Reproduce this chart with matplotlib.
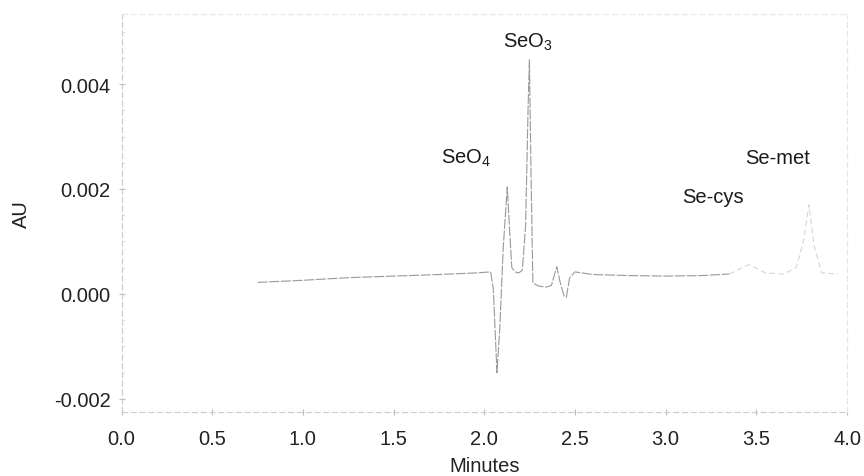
import numpy as np
import matplotlib.pyplot as plt
from matplotlib.ticker import MultipleLocator

plt.rcParams['font.family'] = ['Liberation Sans', 'DejaVu Sans']
plt.rcParams['mathtext.fontset'] = 'custom'
plt.rcParams['mathtext.rm'] = 'Liberation Sans'
plt.rcParams['mathtext.it'] = 'Liberation Sans'

# retention time (min) and absorbance (AU) of the chromatogram trace
minutes = [0.75, 1.0, 1.25, 1.5, 1.75, 1.95, 2.035, 2.05, 2.07, 2.085, 2.105,
           2.127, 2.14, 2.152, 2.17, 2.19, 2.21, 2.228, 2.242, 2.249, 2.257,
           2.268, 2.3, 2.34, 2.37, 2.40, 2.42, 2.44, 2.453, 2.47, 2.5, 2.6,
           2.8, 3.0, 3.2, 3.35, 3.46, 3.55, 3.65, 3.72, 3.76, 3.79, 3.82,
           3.86, 3.95]
absorbance = [0.00022, 0.00026, 0.00031, 0.00034, 0.00037, 0.0004, 0.00042,
              0.0001, -0.0015, -0.0007, 0.0009, 0.00204, 0.0012, 0.0005,
              0.00042, 0.0004, 0.00045, 0.0013, 0.0036, 0.00446, 0.0025,
              0.00021, 0.00015, 0.00013, 0.00016, 0.00052, 0.0002, -0.00004,
              -0.00006, 0.0003, 0.00042, 0.00037, 0.00035, 0.00034, 0.00035,
              0.00038, 0.00056, 0.0004, 0.00038, 0.0005, 0.001, 0.0017,
              0.0009, 0.0004, 0.00038]

# peak names and where they are written
peak_names = ['SeO$_{\\mathregular{4}}$', 'SeO$_{\\mathregular{3}}$', 'Se-cys', 'Se-met']
peak_label_x = [1.90, 2.241, 3.26, 3.62]
peak_label_y = [0.0026, 0.00482, 0.00186, 0.0026]

x_ticks = [0.0, 0.5, 1.0, 1.5, 2.0, 2.5, 3.0, 3.5, 4.0]
y_ticks = [-0.002, 0.000, 0.002, 0.004]

fig = plt.figure(figsize=(8.64, 4.77), dpi=100)
ax = fig.add_axes([121.5 / 864, 1 - 413 / 477, (847 - 121.5) / 864, (413 - 15) / 477])

t = np.array(minutes)
a = np.array(absorbance)
# main trace, then the weak late part of the run
main = t <= 3.35
late = t >= 3.35
ax.plot(t[main], a[main], color='#999999', lw=0.8, ls=(0, (9, 1.5)))
ax.plot(t[late], a[late], color='#d6d6d6', lw=0.8, ls=(0, (5, 3)))

for name, px, py in zip(peak_names, peak_label_x, peak_label_y):
    ax.text(px, py, name, fontsize=14.5, ha='center', va='center', color='#1a1a1a')

ax.set_xlim(0, 4.0)
ax.set_ylim(-0.00225, 0.005335)
ax.set_xticks(x_ticks)
ax.set_xticklabels(['%.1f' % v for v in x_ticks])
ax.set_yticks(y_ticks)
ax.set_yticklabels(['%.3f' % v for v in y_ticks])
ax.yaxis.set_minor_locator(MultipleLocator(0.0005))

ax.tick_params(axis='both', which='major', labelsize=14.5, labelcolor='#222222',
               color='#bbbbbb', direction='inout', length=4, width=0.8)
ax.tick_params(axis='x', pad=10)
ax.tick_params(axis='y', pad=6)
ax.tick_params(axis='y', which='minor', color='#dddddd', direction='in', length=2)

for side in ['left', 'right', 'top', 'bottom']:
    ax.spines[side].set_color('#cfcfcf')
    ax.spines[side].set_linewidth(0.9)
    ax.spines[side].set_linestyle((0, (4, 3)))
ax.spines['right'].set_color('#e6e6e6')
ax.spines['top'].set_color('#e8e8e8')

ax.set_xlabel('Minutes', fontsize=14.5, color='#222222', labelpad=6)
ax.set_ylabel('AU', fontsize=14.5, color='#222222')
ax.yaxis.set_label_coords(-0.125, 0.5)

fig.savefig('out.png', dpi=100)
